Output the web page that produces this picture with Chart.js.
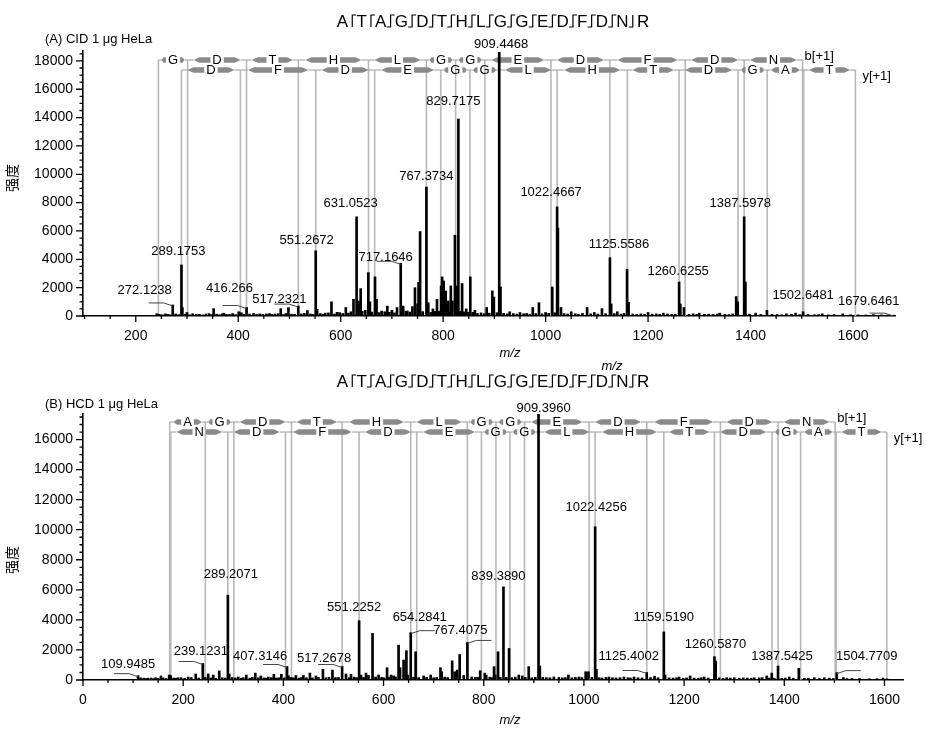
<!DOCTYPE html>
<html>
<head>
<meta charset="utf-8">
<script src="https://cdn.jsdelivr.net/npm/chart.js@4.4.1/dist/chart.umd.min.js"></script>
<style>
  body { margin: 0; background: #fff; }
  canvas { position: absolute; left: 0; }
  #cid { top: 0; }
  #hcd { top: 360px; }
</style>
</head>
<body>
<canvas id="cid" width="926" height="360"></canvas>
<canvas id="hcd" width="926" height="369"></canvas>
<script>
// ---- data ----
const sequence = 'ATAGDTHLGGEDFDNR';
const cidCuts = ['b', 'b', 'by', 'by', 'by', 'by', 'by', 'by', 'by', 'by', 'by', 'by', 'by', 'by', 'y'];
const hcdCuts = ['b', 'by', 'by', 'by', 'by', 'by', 'by', 'by', 'by', 'by', 'by', 'by', 'by', 'by', 'by'];

// panel A (CID)
const cidPeakMz = [241, 272.1238, 289.1753, 291, 300, 352, 372, 401, 416.266, 430, 455, 483, 498, 517.2321, 535,
  551.2672, 554, 570, 582, 598, 610, 620, 625, 631.0523, 635, 639, 648, 654, 657, 667, 670, 680, 691, 700, 710,
  717.1646, 722, 730, 740, 745, 750, 752, 755, 767.3734, 771, 780, 788, 796, 798, 801, 805, 810, 815, 818, 823,
  826, 829.7175, 837, 845, 853, 862, 885, 896, 899, 909.4468, 912, 930, 950, 975, 987, 1000, 1013, 1022.4667,
  1024, 1030, 1050, 1081, 1095, 1110, 1125.5586, 1128, 1140, 1159, 1162, 1200, 1230, 1260.6255, 1263, 1270,
  1300, 1340, 1372, 1375, 1387.5978, 1390, 1410, 1432, 1470, 1488, 1502.6481, 1540, 1580, 1640, 1679.6461];
const cidPeakInt = [160, 780, 3600, 590, 250, 520, 200, 300, 600, 180, 150, 520, 590, 700, 380,
  4600, 470, 200, 1000, 240, 600, 300, 1180, 7000, 1060, 1930, 400, 3060, 1000, 2760, 1180, 350, 700, 400, 600,
  3720, 700, 350, 660, 2000, 850, 2380, 5960, 9100, 940, 500, 1180, 2120, 2760, 2470, 1760, 1060, 2120, 1060, 5700,
  2120, 13900, 2290, 500, 2760, 400, 600, 1770, 1340, 18600, 2050, 300, 250, 600, 940, 250, 2050, 7700,
  6200, 600, 300, 600, 250, 520, 4120, 850, 300, 3300, 970, 250, 200, 2400, 850, 600,
  200, 200, 1370, 1000, 7000, 2400, 200, 400, 150, 200, 300, 150, 150, 100, 60];
const cidNoiseMz = [246, 252, 258, 263, 268, 278, 284, 296, 305, 311, 318, 324, 331, 337, 343, 348, 358, 364, 369,
  377, 383, 389, 395, 406, 411, 422, 436, 442, 448, 461, 466, 472, 478, 488, 493, 504, 510, 523, 529, 541, 546,
  560, 565, 576, 588, 593, 604, 615, 642, 661, 675, 686, 695, 705, 727, 735, 760, 776, 784, 792, 808, 813, 833,
  841, 849, 858, 867, 874, 880, 890, 905, 918, 925, 937, 944, 957, 963, 969, 981, 993, 1006, 1018, 1036, 1043,
  1058, 1064, 1072, 1088, 1102, 1117, 1134, 1147, 1153, 1170, 1178, 1186, 1193, 1208, 1216, 1223, 1238, 1246,
  1253, 1280, 1288, 1295, 1310, 1318, 1327, 1335, 1350, 1358, 1365, 1398, 1420, 1442, 1452, 1461, 1480, 1496,
  1512, 1525, 1533, 1552, 1563, 1595, 1610, 1625, 1655, 1668];
const cidNoiseInt = [120, 90, 150, 110, 80, 140, 100, 130, 90, 160, 110, 120, 80, 140, 170, 100, 130, 90, 150,
  110, 120, 170, 100, 230, 130, 140, 110, 150, 120, 170, 110, 140, 160, 100, 180, 130, 120, 150, 190, 140, 110,
  170, 130, 220, 140, 260, 180, 200, 330, 280, 240, 300, 260, 220, 330, 280, 310, 250, 330, 340, 300, 280, 320,
  290, 270, 260, 180, 220, 160, 200, 230, 190, 150, 170, 140, 160, 180, 130, 170, 150, 190, 230, 170, 140,
  160, 120, 180, 150, 140, 160, 170, 130, 180, 140, 120, 150, 110, 130, 150, 120, 140, 110,
  130, 120, 150, 110, 120, 130, 110, 140, 120, 100, 150, 130, 110, 120, 100, 90, 120, 100,
  110, 90, 100, 80, 100, 90, 80, 70, 80, 70];
const cidLabelMz = [272.1238, 289.1753, 416.266, 517.2321, 551.2672, 631.0523, 717.1646, 767.3734, 829.7175,
  909.4468, 1022.4667, 1125.5586, 1260.6255, 1387.5978, 1502.6481, 1679.6461];
const cidBIons = [244.13, 301.15, 416.18, 517.22, 654.28, 767.37, 824.39, 881.41, 1010.45, 1125.48, 1272.55,
  1387.58, 1501.62];
const cidBRes = ['G', 'D', 'T', 'H', 'L', 'G', 'G', 'E', 'D', 'F', 'D', 'N'];
const cidYIons = [289.16, 404.19, 551.26, 666.28, 795.33, 852.35, 909.37, 1022.45, 1159.51, 1260.56, 1375.59,
  1432.61, 1503.65, 1604.69];
const cidYRes = ['D', 'F', 'D', 'E', 'G', 'G', 'L', 'H', 'T', 'D', 'G', 'A', 'T'];
const cidXTicks = [200, 400, 600, 800, 1000, 1200, 1400, 1600];
const cidYTicks = [0, 2000, 4000, 6000, 8000, 10000, 12000, 14000, 16000, 18000];

// panel B (HCD)
const hcdPeakMz = [109.9485, 115, 130, 145, 155.6, 172, 175, 190, 210, 225, 239.1231, 250, 260, 272, 289.2071,
  292, 310, 326, 344, 355, 370, 381, 396, 407.3146, 410, 425, 440, 453, 465, 479, 498, 517.2678, 525, 535,
  551.2252, 555, 565, 570, 578, 590, 607, 615, 620, 630, 633, 640, 645.6, 648, 654.2841, 664, 680, 694, 713.6,
  716, 737, 742, 747, 752, 760, 767.4075, 793, 802, 805, 820.6, 823, 828.6, 839.389, 850.6, 870, 877, 889.8,
  909.396, 912, 940, 969, 990, 1003.5, 1009, 1022.4256, 1025, 1050, 1080, 1100, 1125.4002, 1141, 1159.519,
  1162, 1190, 1212, 1240, 1260.587, 1263, 1300, 1340, 1365, 1375, 1387.5425, 1410, 1429, 1460, 1480,
  1504.7709, 1518, 1550, 1597];
const hcdPeakInt = [290, 140, 120, 150, 270, 330, 290, 150, 200, 400, 1100, 400, 330, 600, 5650,
  400, 200, 330, 460, 270, 200, 380, 380, 900, 290, 300, 300, 460, 270, 710, 660, 900, 400, 380,
  3950, 330, 460, 300, 3100, 330, 820, 330, 270, 2320, 820, 1330, 1950, 330, 3150, 1880, 270, 330, 820,
  550, 1280, 550, 660, 1700, 300, 2500, 620, 460, 330, 890, 330, 1880, 6200, 2100, 330, 270, 890,
  17700, 930, 200, 330, 200, 550, 550, 10200, 710, 200, 200, 200, 500, 250, 3200,
  330, 200, 270, 200, 1550, 1260, 150, 150, 270, 460, 930, 200, 775, 150, 150,
  490, 160, 100, 130];
const hcdNoiseMz = [121, 126, 136, 141, 150, 160, 166, 181, 186, 196, 203, 216, 231, 244, 255, 265, 278, 284,
  298, 304, 316, 320, 333, 338, 350, 361, 365, 376, 386, 391, 402, 415, 420, 431, 436, 446, 458, 470, 485, 491,
  504, 510, 531, 541, 546, 560, 584, 596, 601, 611, 624, 660, 670, 686, 700, 706, 722, 728, 776, 783, 788, 812,
  816, 833, 845, 856, 863, 883, 896, 903, 918, 925, 932, 950, 957, 963, 976, 983, 996, 1016, 1030, 1036, 1044,
  1057, 1064, 1072, 1088, 1093, 1108, 1116, 1133, 1148, 1170, 1178, 1185, 1198, 1205, 1220, 1228, 1234, 1248,
  1270, 1278, 1285, 1292, 1310, 1318, 1326, 1334, 1350, 1356, 1370, 1380, 1395, 1402, 1418, 1440, 1448, 1470,
  1490, 1498, 1525, 1535, 1570, 1585, 1605];
const hcdNoiseInt = [120, 100, 130, 90, 110, 140, 100, 130, 120, 150, 110, 160, 130, 170, 140, 120, 150, 130,
  160, 140, 120, 150, 130, 170, 150, 140, 120, 160, 130, 150, 140, 170, 150, 130, 160, 150, 140, 170, 150, 180,
  160, 170, 150, 190, 160, 170, 200, 180, 150, 170, 200, 190, 160, 180, 150, 170, 190, 160, 200, 170, 180, 190,
  160, 170, 180, 160, 190, 170, 150, 180, 170, 160, 150, 170, 140, 160, 150, 170, 160, 180, 150, 140, 170,
  150, 140, 160, 150, 130, 150, 140, 160, 150, 140, 130, 150, 120, 140, 130, 120, 150, 130,
  140, 120, 150, 130, 120, 140, 130, 120, 140, 150, 130, 120, 110, 130, 120, 110, 120, 100,
  120, 100, 90, 100, 80, 90, 80];
const hcdLabelMz = [109.9485, 239.1231, 289.2071, 407.3146, 517.2678, 551.2252, 654.2841, 767.4075, 839.389,
  909.396, 1022.4256, 1125.4002, 1159.519, 1260.587, 1387.5425, 1504.7709];
const hcdLabelText = ['109.9485', '239.1231', '289.2071', '407.3146', '517.2678', '551.2252', '654.2841',
  '767.4075', '839.3890', '909.3960', '1022.4256', '1125.4002', '1159.5190', '1260.5870', '1387.5425', '1504.7709'];
const hcdBIons = [173.09, 244.13, 301.15, 416.18, 517.22, 654.28, 767.37, 824.39, 881.41, 1010.45, 1125.48,
  1272.55, 1387.58, 1501.62];
const hcdBRes = ['A', 'G', 'D', 'T', 'H', 'L', 'G', 'G', 'E', 'D', 'F', 'D', 'N'];
const hcdYIons = [175.12, 289.16, 404.19, 551.26, 666.28, 795.33, 852.35, 909.37, 1022.45, 1159.51, 1260.56,
  1375.59, 1432.61, 1503.65, 1604.69];
const hcdYRes = ['N', 'D', 'F', 'D', 'E', 'G', 'G', 'L', 'H', 'T', 'D', 'G', 'A', 'T'];
const hcdXTicks = [0, 200, 400, 600, 800, 1000, 1200, 1400, 1600];
const hcdYTicks = [0, 2000, 4000, 6000, 8000, 10000, 12000, 14000, 16000];

// ---- label placement (pixel offsets from the peak top, leader side) ----
const cidPlace = [[-28, -15, -1], [-3, -14, 0], [-17, -19, -1], [-19, -7, -1], [-9, -10, 0], [-6, -13, 0],
  [-15, -6, -1], [0, -11, 0], [-5, -18, 0], [2, -8, 0], [-6, -14, 0], [9, -13, 0], [-1, -11, 0], [-4, -13, 0],
  [0, -16, 0], [-25, -14, -1]];
const hcdPlace = [[-10, -11, -1], [-2, -12, -1], [3, -21, 0], [-27, -10, -1], [-18, -8, -1], [-5, -13, 0],
  [9, -15, 1], [-7, -12, 1], [-5, -10, 0], [5, -6, 0], [1, -19, 0], [-18, -16, -1], [0, -14, 0], [1, -12, 0],
  [4, -10, 0], [30, -16, 1]];

const FONT = '"Liberation Sans", Arial, sans-serif';

function drawSequence(ctx, cx, cy, cuts) {
  ctx.save();
  ctx.font = '17px ' + FONT;
  ctx.fillStyle = '#000';
  ctx.strokeStyle = '#000';
  ctx.lineWidth = 1.2;
  ctx.textAlign = 'left';
  ctx.textBaseline = 'alphabetic';
  const gap = 8.3;
  const widths = sequence.split('').map(c => ctx.measureText(c).width);
  const total = widths.reduce((a, b) => a + b, 0) + gap * (sequence.length - 1);
  let x = cx - total / 2;
  for (let i = 0; i < sequence.length; i++) {
    ctx.fillText(sequence[i], x, cy + 6);
    x += widths[i];
    if (i < cuts.length) {
      const mx = x + gap / 2, top = cy - 6, bot = cy + 6;
      ctx.beginPath();
      ctx.moveTo(mx, top);
      ctx.lineTo(mx, bot);
      if (cuts[i].includes('b')) { ctx.moveTo(mx - 0.5, top); ctx.lineTo(mx + 4, top); }
      if (cuts[i].includes('y')) { ctx.moveTo(mx + 0.5, bot); ctx.lineTo(mx - 4, bot); }
      ctx.stroke();
      x += gap;
    }
  }
  ctx.restore();
}

function arrowBar(ctx, a, b, y, dir) {
  if (b - a < 3) return;
  const h = 2.8, head = Math.min(6, (b - a) / 2);
  ctx.beginPath();
  if (dir < 0) {
    ctx.moveTo(a, y); ctx.lineTo(a + head, y - h); ctx.lineTo(b, y - h);
    ctx.lineTo(b, y + h); ctx.lineTo(a + head, y + h);
  } else {
    ctx.moveTo(b, y); ctx.lineTo(b - head, y - h); ctx.lineTo(a, y - h);
    ctx.lineTo(a, y + h); ctx.lineTo(b - head, y + h);
  }
  ctx.closePath();
  ctx.fill();
}

function drawLadder(ctx, xs, ions, res, rowY) {
  ctx.save();
  ctx.font = '13px ' + FONT;
  ctx.textAlign = 'center';
  ctx.textBaseline = 'middle';
  for (let i = 0; i < res.length; i++) {
    const x0 = xs.getPixelForValue(ions[i]), x1 = xs.getPixelForValue(ions[i + 1]);
    const mid = (x0 + x1) / 2, len = x1 - x0;
    const hw = ctx.measureText(res[i]).width / 2 + 2;
    const inset = Math.max(3, len * 0.1);
    ctx.strokeStyle = '#9c9c9c';
    ctx.lineWidth = 1;
    ctx.beginPath();
    ctx.moveTo(x0, rowY); ctx.lineTo(x0 + inset, rowY);
    ctx.moveTo(x1 - inset, rowY); ctx.lineTo(x1, rowY);
    if (mid - hw - (x0 + inset) < 3) { ctx.moveTo(x0 + inset, rowY); ctx.lineTo(mid - hw, rowY); ctx.moveTo(mid + hw, rowY); ctx.lineTo(x1 - inset, rowY); }
    ctx.stroke();
    ctx.fillStyle = '#8a8a8a';
    arrowBar(ctx, x0 + inset, mid - hw, rowY, -1);
    arrowBar(ctx, mid + hw, x1 - inset, rowY, 1);
    ctx.fillStyle = '#000';
    ctx.fillText(res[i], mid, rowY);
  }
  ctx.restore();
}

function spectrumPlugin(p) {
  return {
    id: 'spectrum',
    beforeDatasetsDraw(chart) {
      const { ctx } = chart;
      const xs = chart.scales.x, ys = chart.scales.y;
      const base = ys.getPixelForValue(0);
      ctx.save();
      ctx.strokeStyle = '#b8b8b8';
      ctx.lineWidth = 1.6;
      ctx.beginPath();
      p.bIons.forEach(m => { const x = xs.getPixelForValue(m); ctx.moveTo(x, p.bRowY); ctx.lineTo(x, base); });
      p.yIons.forEach(m => { const x = xs.getPixelForValue(m); ctx.moveTo(x, p.yRowY); ctx.lineTo(x, base); });
      ctx.stroke();
      ctx.restore();
      drawLadder(ctx, xs, p.bIons, p.bRes, p.bRowY);
      drawLadder(ctx, xs, p.yIons, p.yRes, p.yRowY);
      ctx.save();
      ctx.font = '13px ' + FONT;
      ctx.fillStyle = '#000';
      ctx.textAlign = 'left';
      ctx.textBaseline = 'middle';
      ctx.fillText('b[+1]', xs.getPixelForValue(p.bIons[p.bIons.length - 1]) + 2, p.bRowY - 4);
      ctx.fillText('y[+1]', xs.getPixelForValue(p.yIons[p.yIons.length - 1]) + 7, p.yRowY + 6);
      ctx.restore();
    },
    afterDraw(chart) {
      const { ctx, chartArea } = chart;
      const xs = chart.scales.x, ys = chart.scales.y;
      ctx.save();
      // tick marks
      ctx.strokeStyle = '#000';
      ctx.lineWidth = 1.3;
      ctx.beginPath();
      for (let v = 0; v <= p.yMax; v += 500) {
        const y = ys.getPixelForValue(v);
        const len = v % 2000 === 0 ? 7 : 3.5;
        ctx.moveTo(chartArea.left - len, y); ctx.lineTo(chartArea.left, y);
      }
      for (let v = Math.ceil(p.xMin / 50) * 50; v <= p.xMax; v += 50) {
        const x = xs.getPixelForValue(v);
        const len = v % 200 === 0 ? 6 : 3;
        ctx.moveTo(x, chartArea.bottom); ctx.lineTo(x, chartArea.bottom + len);
      }
      ctx.stroke();

      // peak labels
      ctx.font = '13px ' + FONT;
      ctx.fillStyle = '#000';
      ctx.textAlign = 'center';
      ctx.textBaseline = 'middle';
      p.labelMz.forEach((m, i) => {
        const k = p.mz.indexOf(m);
        const px = xs.getPixelForValue(m), py = ys.getPixelForValue(p.int[k]);
        const [dx, dy, side] = p.place[i];
        ctx.fillText(p.labelText[i], px + dx, py + dy);
        if (side) {
          ctx.strokeStyle = '#444';
          ctx.lineWidth = 1;
          ctx.beginPath();
          ctx.moveTo(px + side * 24, py - 2);
          ctx.lineTo(px + side * 9, py - 2);
          ctx.lineTo(px, py + 1);
          ctx.stroke();
        }
      });

      // panel texts
      ctx.textAlign = 'left';
      ctx.fillText(p.title, 45, p.titleY);
      drawSequence(ctx, 493, 21, p.cuts);
      ctx.font = 'italic 13px ' + FONT;
      ctx.textAlign = 'center';
      ctx.fillText('m/z', 510, p.xTitleY);
      if (p.extraMz) ctx.fillText('m/z', 612, 6);
      ctx.translate(12, p.yTitleY);
      ctx.rotate(-Math.PI / 2);
      ctx.font = '14px "Noto Sans CJK SC", sans-serif';
      ctx.fillText('强度', 0, 0);
      ctx.restore();
    }
  };
}

function buildChart(id, p) {
  const points = p.mz.map((m, i) => ({ x: m, y: p.int[i] }))
    .concat(p.noiseMz.map((m, i) => ({ x: m, y: p.noiseInt[i] })));
  const tickFont = { family: FONT, size: 14 };
  return new Chart(document.getElementById(id), {
    type: 'bar',
    data: {
      datasets: [{
        data: points,
        backgroundColor: '#000',
        barThickness: 2,
        grouped: false
      }]
    },
    options: {
      responsive: false,
      animation: false,
      layout: { padding: { top: p.padTop, right: p.padRight, left: 0, bottom: 0 } },
      plugins: { legend: { display: false }, tooltip: { enabled: false } },
      scales: {
        x: {
          type: 'linear',
          min: p.xMin,
          max: p.xMax,
          offset: false,
          grid: { display: false, drawTicks: false },
          border: { color: '#000', width: 1.6 },
          afterBuildTicks: s => { s.ticks = p.xTicks.map(v => ({ value: v })); },
          afterFit: s => { s.height = p.xAxisH; },
          ticks: { font: tickFont, color: '#000', padding: 12, maxRotation: 0, autoSkip: false,
            callback: v => String(v) }
        },
        y: {
          min: 0,
          max: p.yMax,
          grid: { display: false, drawTicks: false },
          border: { color: '#000', width: 1.6 },
          afterBuildTicks: s => { s.ticks = p.yTicks.map(v => ({ value: v })); },
          afterFit: s => { s.width = 83; },
          ticks: { font: tickFont, color: '#000', padding: 10, autoSkip: false,
            callback: v => String(v) }
        }
      }
    },
    plugins: [spectrumPlugin(p)]
  });
}

buildChart('cid', {
  mz: cidPeakMz, int: cidPeakInt, noiseMz: cidNoiseMz, noiseInt: cidNoiseInt,
  labelMz: cidLabelMz, labelText: cidLabelMz.map(String), place: cidPlace,
  bIons: cidBIons, bRes: cidBRes, yIons: cidYIons, yRes: cidYRes, cuts: cidCuts,
  xTicks: cidXTicks, yTicks: cidYTicks, xMin: 97, xMax: 1682, yMax: 18700,
  padTop: 51, padRight: 31, xAxisH: 44, bRowY: 60, yRowY: 70,
  title: '(A) CID 1 \u03bcg HeLa', titleY: 39, xTitleY: 353, yTitleY: 178, extraMz: false
});

buildChart('hcd', {
  mz: hcdPeakMz, int: hcdPeakInt, noiseMz: hcdNoiseMz, noiseInt: hcdNoiseInt,
  labelMz: hcdLabelMz, labelText: hcdLabelText, place: hcdPlace,
  bIons: hcdBIons, bRes: hcdBRes, yIons: hcdYIons, yRes: hcdYRes, cuts: hcdCuts,
  xTicks: hcdXTicks, yTicks: hcdYTicks, xMin: 0, xMax: 1637, yMax: 17700,
  padTop: 54, padRight: 23, xAxisH: 49, bRowY: 62, yRowY: 72,
  title: '(B) HCD 1 \u03bcg HeLa', titleY: 44, xTitleY: 360, yTitleY: 200, extraMz: true
});
</script>
</body>
</html>
